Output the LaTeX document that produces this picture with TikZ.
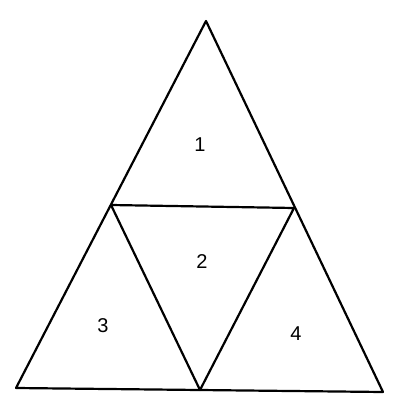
\documentclass[tikz,border=0pt]{standalone}
\usepackage{fontspec}
\setmainfont{Liberation Sans}
\begin{document}
\begin{tikzpicture}[x=1pt,y=-1pt,
  edge/.style={line width=2.2pt,line join=round,line cap=round},
  lbl/.style={font=\fontsize{20}{20}\selectfont,inner sep=0pt}]
\useasboundingbox (0,0) rectangle (400,415);
\coordinate (A) at (206,21);
\coordinate (L) at (111,205);
\coordinate (R) at (294,208);
\coordinate (BL) at (16,388);
\coordinate (BM) at (200,390);
\coordinate (BR) at (383,392);
\draw[edge] (A) -- (BL) -- (BR) -- cycle;
\draw[edge] (L) -- (R) -- (BM) -- cycle;
\node[lbl] (n1) at (200,145) {1};
\node[lbl] (n2) at (202,262) {2};
\node[lbl] (n3) at (103,326) {3};
\node[lbl] (n4) at (296,334) {4};
\end{tikzpicture}
\end{document}
